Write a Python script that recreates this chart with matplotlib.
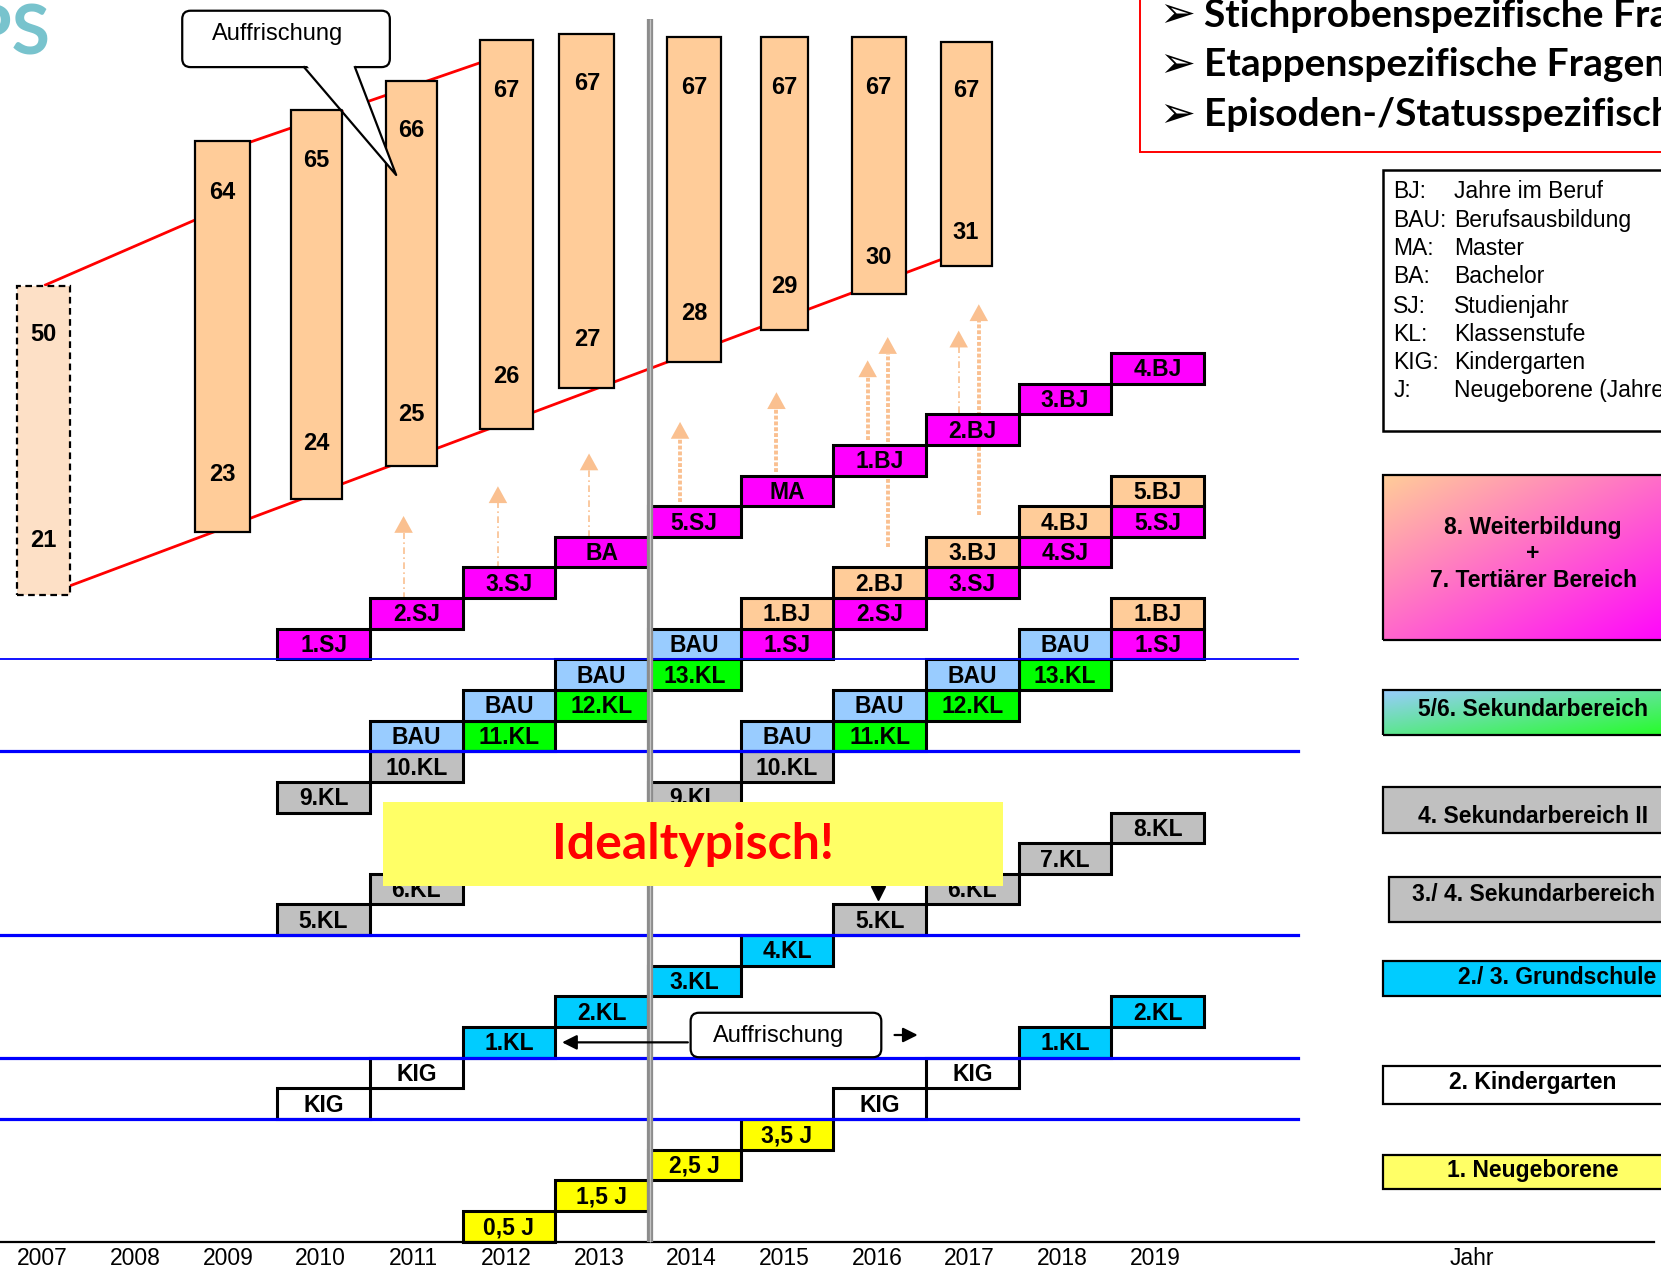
#!/usr/bin/env python3
"""NEPS-Schema: idealtypische Kohortenverläufe 2007-2019."""

import matplotlib
matplotlib.use("Agg")
import matplotlib.pyplot as plt
import numpy as np
from matplotlib.colors import to_rgb
from matplotlib.patches import FancyBboxPatch, Polygon, Rectangle

plt.rcParams["font.family"] = ["Liberation Sans", "DejaVu Sans"]
CAL = ["Lato", "DejaVu Sans"]

# ─── Daten ──────────────────────────────────────────────────────────────────
years = list(range(2007, 2020))

# Altersspannen der Erwachsenenstichprobe
bar_years = [2007, 2009, 2010, 2011, 2012, 2013, 2014, 2015, 2016, 2017]
age_max = [50, 64, 65, 66, 67, 67, 67, 67, 67, 67]
age_min = [21, 23, 24, 25, 26, 27, 28, 29, 30, 31]

# Kohortenpfade (ein Kasten pro Jahr, jede Stufe eine Zeile höher)
neu_years = list(range(2012, 2020))
neu_labels = ["0,5 J", "1,5 J", "2,5 J", "3,5 J", "KIG", "KIG", "1.KL", "2.KL"]

kig_years = list(range(2010, 2020))
kig_labels = ["KIG", "KIG", "1.KL", "2.KL", "3.KL", "4.KL", "5.KL", "6.KL", "7.KL", "8.KL"]

kl5_years = list(range(2010, 2020))
kl5_labels = ["5.KL", "6.KL", "7.KL", "8.KL", "9.KL", "10.KL", "11.KL", "12.KL", "13.KL", "1.SJ"]
kl5_bau_years = list(range(2015, 2020))
kl5_bau_labels = ["BAU", "BAU", "BAU", "BAU", "1.BJ"]

kl9_years = list(range(2010, 2020))
kl9_labels = ["9.KL", "10.KL", "11.KL", "12.KL", "13.KL", "1.SJ", "2.SJ", "3.SJ", "4.SJ", "5.SJ"]
kl9_bau_years = list(range(2011, 2020))
kl9_bau_labels = ["BAU", "BAU", "BAU", "BAU", "1.BJ", "2.BJ", "3.BJ", "4.BJ", "5.BJ"]

stu_years = list(range(2010, 2020))
stu_labels = ["1.SJ", "2.SJ", "3.SJ", "BA", "5.SJ", "MA", "1.BJ", "2.BJ", "3.BJ", "4.BJ"]

abbr = ["BJ:", "BAU:", "MA:", "BA:", "SJ:", "KL:", "KIG:", "J:"]
abbr_text = ["Jahre im Beruf", "Berufsausbildung", "Master", "Bachelor",
             "Studienjahr", "Klassenstufe", "Kindergarten", "Neugeborene (Jahre)"]

stage_labels = ["8. Weiterbildung\n+\n7. Tertiärer Bereich", "5/6. Sekundarbereich",
                "4. Sekundarbereich II", "3./ 4. Sekundarbereich", "2./ 3. Grundschule",
                "2. Kindergarten", "1. Neugeborene"]

bullets = ["Stichprobenspezifische Fragen", "Etappenspezifische Fragen",
           "Episoden-/Statusspezifische Fragen"]

# ─── Layout (x = Jahr, y = Zeilen über der Zeitachse) ────────────────────────
X0, X1 = 2006.509, 2024.429
Y0, Y1 = -1.093, 40.52

bar_x = [2006.978, 2008.909, 2009.926, 2010.949, 2011.971, 2012.840, 2014.000, 2014.972, 2015.989, 2016.932]
bar_w = [0.571, 0.594, 0.549, 0.560, 0.571, 0.594, 0.583, 0.514, 0.583, 0.549]
bar_top = [31.18, 35.91, 36.92, 37.88, 39.20, 39.41, 39.30, 39.30, 39.30, 39.16]
bar_bot = [21.09, 23.16, 24.23, 25.30, 26.51, 27.86, 28.69, 29.76, 30.94, 31.84]
top_lab = [29.59, 34.25, 35.29, 36.26, 37.57, 37.78, 37.68, 37.68, 37.68, 37.57]
bot_lab = [22.88, 25.03, 26.03, 27.00, 28.24, 29.45, 30.28, 31.18, 32.11, 32.94]

arr_x = [2010.863, 2011.881, 2012.864, 2013.846, 2014.886, 2015.870, 2016.086, 2016.852, 2017.069]
arr_y0 = [20.98, 21.98, 22.99, 24.13, 25.13, 26.17, 22.68, 27.03, 23.71]
arr_y1 = [23.68, 24.65, 25.72, 26.75, 27.72, 28.76, 29.52, 29.73, 30.59]
arr_thick = [False, False, False, True, True, True, True, False, True]

blue_rows = [19, 16, 10, 6, 4]
blue_lw = [1.3, 2.3, 2.3, 2.3, 2.3]

# gelber Hinweis "Idealtypisch!"
NOTE_X0, NOTE_X1, NOTE_Y0, NOTE_Y1 = 2010.646, 2017.332, 11.61, 14.345

stage_x0 = [2021.43, 2021.43, 2021.43, 2021.49, 2021.43, 2021.43, 2021.43]
stage_y0 = [19.63, 16.52, 13.34, 10.44, 8.02, 4.49, 1.73]
stage_y1 = [25.03, 18.01, 14.83, 11.89, 9.16, 5.74, 2.83]
stage_ty = [22.45, 17.35, 13.86, 11.34, 8.61, 5.18, 2.32]
stage_tx = [2023.05, 2023.05, 2023.05, 2023.05, 2023.31, 2023.05, 2023.05]
stage_col = [None, None, "#C0C0C0", "#C0C0C0", "#00CCFF", "#FFFFFF", "#FFFF66"]
stage_grad = {0: ("#FFCC99", "#FF00FF"), 1: ("#99CCFF", "#22FF22")}

abbr_rows = [34.26, 33.32, 32.42, 31.49, 30.52, 29.59, 28.69, 27.76]
bullet_rows = [40.03, 38.40, 36.78]

MAGENTA, PEACH = "#FF00FF", "#FFCC99"


def box_color(label, bj_color):
    if "," in label:
        return "#FFFF00"
    if label == "KIG":
        return "#FFFFFF"
    if label == "BAU":
        return "#99CCFF"
    if label.endswith("BJ"):
        return bj_color
    if label.endswith("SJ") or label in ("BA", "MA"):
        return MAGENTA
    n = int(label.split(".")[0])
    if n <= 4:
        return "#00CCFF"
    if n <= 10:
        return "#C0C0C0"
    return "#00FF00"


def hidden_by_note(yr, row):
    """True, wenn der Kasten vollständig unter dem gelben Hinweis liegt."""
    return (yr - 0.5 >= NOTE_X0 and yr + 0.5 <= NOTE_X1
            and row >= NOTE_Y0 and row + 1 <= NOTE_Y1)


paths = [
    (neu_years, neu_labels, 0, PEACH),
    (kig_years, kig_labels, 4, PEACH),
    (kl5_years, kl5_labels, 10, PEACH),
    (kl5_bau_years, kl5_bau_labels, 16, PEACH),
    (kl9_years, kl9_labels, 14, PEACH),
    (kl9_bau_years, kl9_bau_labels, 16, PEACH),
    (stu_years, stu_labels, 19, MAGENTA),
]

fig = plt.figure(figsize=(16.61, 12.75), dpi=100)
ax = fig.add_axes([0, 0, 1, 1])
ax.set_axis_off()

# Logo-Rest oben links
ax.text(2007.05, 39.38, "NEPS", family=CAL, fontweight="bold", fontsize=50,
        color="#78C3CD", ha="right", va="center")

# rote Verbindungslinien der Altersspannen
ax.plot([2007.0, 2008.613, 2009.206, 2011.677, 2011.85], [31.22, 33.34, 35.88, 38.46, 38.64],
        color="red", lw=2, zorder=1)
ax.plot([2007.263, 2016.795], [21.40, 32.2], color="red", lw=2, zorder=1)

# Altersbalken
for i, yr in enumerate(bar_years):
    dashed = i == 0
    ax.add_patch(Rectangle((bar_x[i] - bar_w[i] / 2, bar_bot[i]), bar_w[i], bar_top[i] - bar_bot[i],
                           facecolor="#FDE0C6" if dashed else PEACH, edgecolor="black",
                           lw=1.6, ls=(0, (3, 2)) if dashed else "-", zorder=2))
    for val, row in ((age_max[i], top_lab[i]), (age_min[i], bot_lab[i])):
        ax.text(bar_x[i], row, str(val), fontsize=17, fontweight="bold", ha="center", va="center", zorder=3)

# gestrichelte Pfeile
for x, y0, y1, thick in zip(arr_x, arr_y0, arr_y1, arr_thick):
    head = 0.55
    ax.plot([x, x], [y0, y1 - head], color="#FAC090", lw=2.8 if thick else 1.2,
            ls=(0, (1.0, 0.5)) if thick else (0, (4, 2, 1, 2)), zorder=3)
    ax.add_patch(Polygon([(x - 0.1, y1 - head), (x + 0.1, y1 - head), (x, y1)],
                         closed=True, facecolor="#FAC090", edgecolor="none", zorder=3))

# Kohortenkästen
for yrs, labels, start, bj in paths:
    for k, (yr, lab) in enumerate(zip(yrs, labels)):
        row = start + k
        ax.add_patch(Rectangle((yr - 0.5, row), 1, 1, facecolor=box_color(lab, bj),
                               edgecolor="black", lw=2.2, zorder=4))
        if not hidden_by_note(yr, row):
            ax.text(yr, row + 0.45, lab, fontsize=16.5, fontweight="bold", ha="center", va="center", zorder=6)

# Etappengrenzen
for row, lw in zip(blue_rows, blue_lw):
    ax.plot([X0, 2020.51], [row, row], color="#0000FF", lw=lw, zorder=5)

# Zeitachse
ax.plot([X0, 2024.35], [0, 0], color="black", lw=1.6, zorder=5)
for yr in years:
    ax.text(yr - 0.03, -0.555, str(yr), fontsize=16.5, ha="center", va="center")
ax.text(2022.39, -0.555, "Jahr", fontsize=16.5, ha="center", va="center")

# Startjahr-Trennlinie
ax.plot([2013.526, 2013.526], [0, 39.89], color="#8C8C8C", lw=4.5, zorder=7, solid_capstyle="butt")
ax.plot([2013.526, 2013.526], [0, 39.89], color="#C4C4C4", lw=0.9, zorder=7, solid_capstyle="butt")

# verdeckter Pfeil unter dem Hinweis
ax.plot([2015.98], [11.37], marker="v", color="black", markersize=10, zorder=6)

# Hinweis "Idealtypisch!"
ax.add_patch(Rectangle((NOTE_X0, NOTE_Y0), NOTE_X1 - NOTE_X0, NOTE_Y1 - NOTE_Y0,
                       facecolor="#FFFF66", edgecolor="none", zorder=8))
ax.text(2013.98, 12.96, "Idealtypisch!", family=CAL, fontweight="bold", fontsize=36,
        color="#FF0000", ha="center", va="center", zorder=9)

ASPECT = 92.69 / 30.64


def callout(x0, y0, x1, y1, text, tx, ty):
    ax.add_patch(FancyBboxPatch((x0, y0), x1 - x0, y1 - y0,
                                boxstyle="round,pad=0,rounding_size=0.09", mutation_aspect=ASPECT,
                                facecolor="white", edgecolor="black", lw=1.6, zorder=9))
    ax.text(tx, ty, text, fontsize=17, ha="center", va="center", zorder=11)


# Auffrischung oben mit Sprechblasen-Spitze
callout(2008.475, 38.33, 2010.715, 40.17, "Auffrischung", 2009.50, 39.40)
tail = [(2009.789, 38.33), (2010.783, 34.81), (2010.338, 38.33)]
ax.add_patch(Polygon([(2009.80, 38.45), (2010.783, 34.81), (2010.33, 38.45)], closed=True,
                     facecolor="white", edgecolor="none", zorder=10))
ax.plot([p[0] for p in tail], [p[1] for p in tail], color="black", lw=1.6, zorder=10)

# Auffrischung unten mit Pfeilen
callout(2013.96, 6.015, 2016.017, 7.466, "Auffrischung", 2014.91, 6.71)
ax.annotate("", xy=(2012.543, 6.50), xytext=(2013.96, 6.50),
            arrowprops=dict(arrowstyle="-|>", color="black", lw=1.6, mutation_scale=22), zorder=10)
ax.annotate("", xy=(2016.44, 6.74), xytext=(2016.13, 6.74),
            arrowprops=dict(arrowstyle="-|>", color="black", lw=1.6, mutation_scale=22), zorder=10)

# Kasten oben rechts
ax.add_patch(Rectangle((2018.806, 35.57), 6.5, 8, facecolor="white", edgecolor="#FF0000", lw=1.4, zorder=5))
for row, txt in zip(bullet_rows, bullets):
    ax.text(2019.206, row, "\u27a2", fontsize=31, ha="center", va="center", family=["DejaVu Sans"], zorder=6)
    ax.text(2019.503, row, txt, family=CAL, fontweight="bold", fontsize=28, ha="left", va="center", zorder=6)

# Abkürzungen
ax.add_patch(Rectangle((2021.43, 26.44), 4, 34.98 - 26.44, facecolor="white", edgecolor="black", lw=1.8, zorder=5))
for row, a, t in zip(abbr_rows, abbr, abbr_text):
    ax.text(2021.54, row, a, fontsize=16.5, ha="left", va="center", zorder=6)
    ax.text(2022.20, row, t, fontsize=16.5, ha="left", va="center", zorder=6)

# Etappen-Legende
for i, lab in enumerate(stage_labels):
    x0, y0, y1 = stage_x0[i], stage_y0[i], stage_y1[i]
    if i in stage_grad:
        c0, c1 = (np.array(to_rgb(c)) for c in stage_grad[i])
        u = np.linspace(0, 1, 60)[None, :]
        v = np.linspace(0, 1, 30)[:, None]
        t = ((u + v) / 2)[..., None]
        ax.imshow(c0 * (1 - t) + c1 * t, extent=[x0, 2024.7, y0, y1], origin="upper",
                  aspect="auto", interpolation="bilinear", zorder=4)
        face = "none"
    else:
        face = stage_col[i]
    ax.add_patch(Rectangle((x0, y0), 2025 - x0, y1 - y0, facecolor=face, edgecolor="black", lw=1.6, zorder=5))
    ax.text(stage_tx[i], stage_ty[i], lab, fontsize=16.5, fontweight="bold", ha="center", va="center",
            linespacing=1.2, zorder=6)

ax.set_xlim(X0, X1)
ax.set_ylim(Y0, Y1)
fig.savefig("out.png", dpi=100)
